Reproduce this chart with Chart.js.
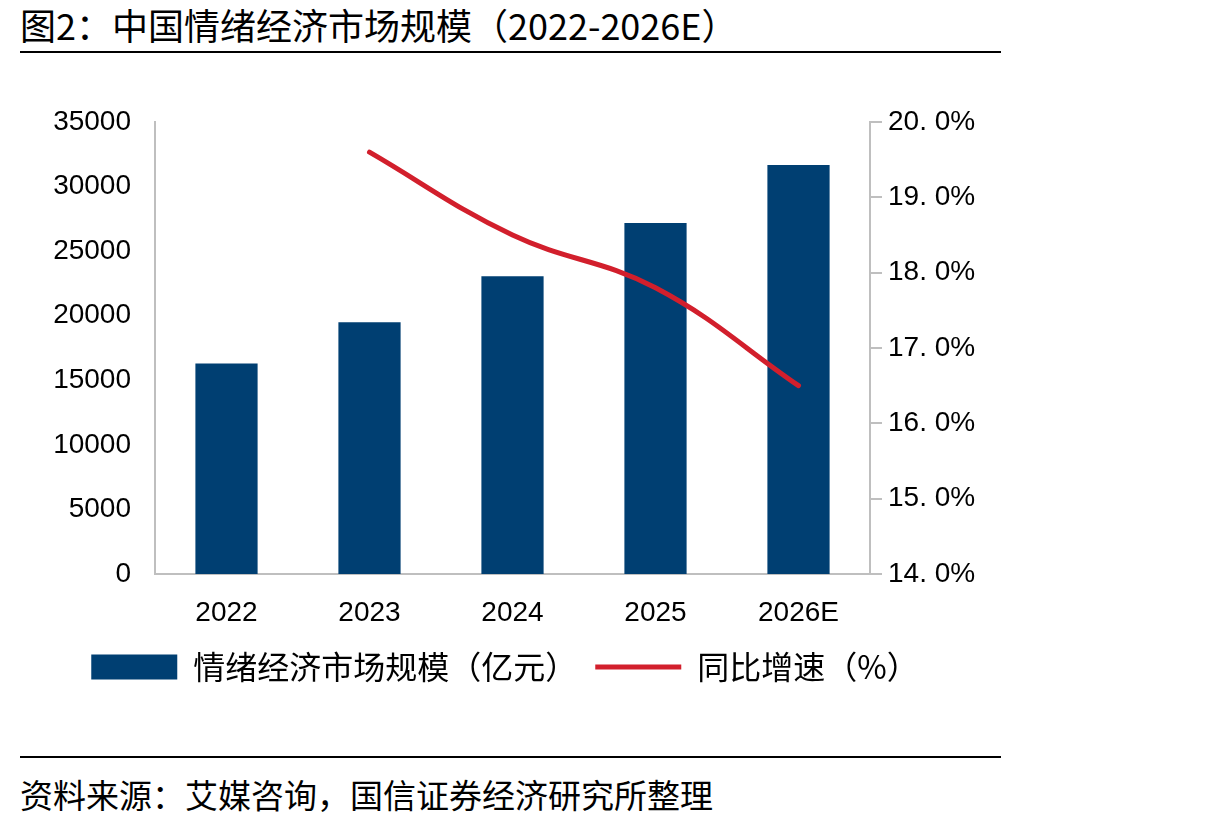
<!DOCTYPE html>
<html>
<head>
<meta charset="utf-8">
<script src="https://cdn.jsdelivr.net/npm/chart.js@4/dist/chart.umd.min.js"></script>
<style>
  body { margin: 0; background: #fff; width: 1217px; height: 824px; position: relative; overflow: hidden; }
  .title { position: absolute; left: 20px; top: -2px; font-family: "Noto Sans CJK SC", sans-serif; font-size: 36px; color: #000; white-space: nowrap; }
  .rule { position: absolute; left: 20px; width: 981px; height: 2px; background: #000; }
  .source { position: absolute; left: 20px; top: 770px; font-family: "Noto Sans CJK SC", sans-serif; font-size: 33px; color: #000; white-space: nowrap; }
  #wrap { position: absolute; left: 0; top: 60px; width: 1010px; height: 660px; }
</style>
</head>
<body>
<div class="title">图2：中国情绪经济市场规模（2022-2026E）</div>
<div class="rule" style="top:51px"></div>
<div id="wrap"><canvas id="chart"></canvas></div>
<div class="rule" style="top:756px"></div>
<div class="source">资料来源：艾媒咨询，国信证券经济研究所整理</div>
<script>
// data
const years = ['2022', '2023', '2024', '2025', '2026E'];
const marketSize = [16300, 19500, 23050, 27180, 31680];   // 亿元
const growthRate = [null, 19.6, 18.5, 17.8, 16.5];        // %
const leftTicks = [0, 5000, 10000, 15000, 20000, 25000, 30000, 35000];
const rightTicks = [14, 15, 16, 17, 18, 19, 20];

const axisGray = '#bfbfbf';
const tickFont = { family: 'Arial, "Liberation Sans", sans-serif', size: 28 };

const ctx = document.getElementById('chart').getContext('2d');
let chart = new Chart(ctx, {
  data: {
    labels: years,
    datasets: [
      {
        type: 'line',
        label: '同比增速（%）',
        data: growthRate,
        yAxisID: 'y1',
        borderColor: '#d21f2c',
        backgroundColor: '#d21f2c',
        borderWidth: 5,
        pointRadius: 0,
        pointStyle: 'line',
        tension: 0.4,
        borderCapStyle: 'round',
        order: 0
      },
      {
        type: 'bar',
        label: '情绪经济市场规模（亿元）',
        data: marketSize,
        yAxisID: 'y',
        backgroundColor: '#003f72',
        borderWidth: 0,
        pointStyle: 'rect',
        barPercentage: 0.435,
        categoryPercentage: 1,
        order: 1
      }
    ]
  },
  options: {
    responsive: true,
    maintainAspectRatio: false,
    animation: false,
    layout: { padding: { top: 62, left: 0, right: 0, bottom: 27 } },
    plugins: {
      tooltip: { enabled: false },
      legend: {
        position: 'bottom',
        reverse: true,
        labels: {
          usePointStyle: true,
          pointStyleWidth: 86,
          boxHeight: 25,
          padding: 18,
          color: '#000',
          font: { family: '"Noto Sans CJK SC", sans-serif', size: 32 }
        }
      }
    },
    scales: {
      x: {
        grid: { display: false, drawTicks: false },
        border: { display: true, color: axisGray, width: 2 },
        ticks: { color: '#000', font: tickFont, padding: 22 },
        afterFit: function (s) { s.height = 59; }
      },
      y: {
        position: 'left',
        min: 0,
        max: 35000,
        afterBuildTicks: function (s) { s.ticks = leftTicks.map(v => ({ value: v })); },
        grid: { display: false, drawTicks: false },
        border: { display: true, color: axisGray, width: 2 },
        ticks: { color: '#000', font: tickFont, padding: 24, callback: function (v) { return String(v); } },
        afterFit: function (s) { s.width = 155; }
      },
      y1: {
        position: 'right',
        min: 14,
        max: 20,
        afterBuildTicks: function (s) { s.ticks = rightTicks.map(v => ({ value: v })); },
        grid: { display: true, drawOnChartArea: false, drawTicks: true, tickLength: 12, color: axisGray, lineWidth: 2 },
        border: { display: true, color: axisGray, width: 2 },
        ticks: {
          color: '#000',
          font: tickFont,
          padding: 6,
          callback: function (v) { return v.toFixed(1).replace('.', '. ') + '%'; }
        },
        afterFit: function (s) { s.width = 140; }
      }
    }
  }
});
</script>
</body>
</html>
